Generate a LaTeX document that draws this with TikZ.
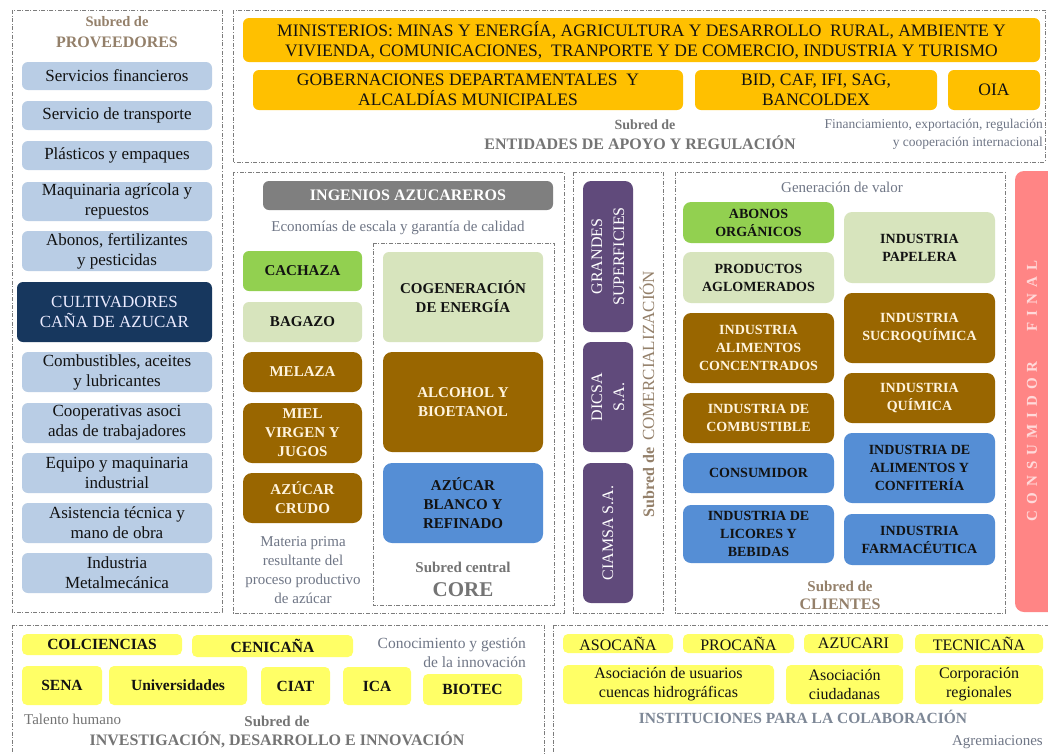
\documentclass[tikz,border=0pt]{standalone}
\usepackage{fontspec}
\setmainfont{Liberation Serif}
\definecolor{provblue}{HTML}{B9CDE5}
\definecolor{navyx}{HTML}{17375E}
\definecolor{goldx}{HTML}{FFC000}
\definecolor{brownx}{HTML}{996600}
\definecolor{lgreenx}{HTML}{D7E4BD}
\definecolor{bgreenx}{HTML}{92D050}
\definecolor{bluex}{HTML}{558ED5}
\definecolor{purplex}{HTML}{604A7B}
\definecolor{grayx}{HTML}{7F7F7F}
\definecolor{pinkx}{HTML}{FF8585}
\definecolor{yellowx}{HTML}{FFFF66}
\definecolor{titletan}{HTML}{94806A}
\definecolor{titlegray}{HTML}{747474}
\definecolor{titleblue}{HTML}{7D8796}
\definecolor{notegray}{HTML}{6F7686}
\definecolor{framegray}{HTML}{7C7C7C}
\definecolor{creamx}{HTML}{FFF4DE}
\definecolor{inkx}{HTML}{121212}
\definecolor{pinktext}{HTML}{FFDADA}
\newcommand\fProv{\fontsize{17}{20}\selectfont}
\newcommand\fMin{\fontsize{17.5}{20}\selectfont}
\newcommand\fIng{\bfseries\fontsize{15}{19}\selectfont}
\newcommand\fCli{\bfseries\fontsize{14}{18}\selectfont}
\newcommand\fInv{\bfseries\fontsize{15.5}{19}\selectfont}
\newcommand\fIns{\fontsize{16}{19}\selectfont}
\newcommand\fNote{\fontsize{15}{19}\selectfont}
\newcommand\fSub{\bfseries\fontsize{14}{17}\selectfont}
\newcommand\fTit{\bfseries\fontsize{16}{19}\selectfont}
\newcommand\lsp{\hspace{6pt}}
\newcommand{\bx}[7]{\node[#2, minimum width={#5-#3}, minimum height={#6-#4}] (#1) at ({(#3+#5)/2},{(#4+#6)/2}) {#7};}
\tikzset{
  frame/.style={draw=framegray, line width=0.8pt, dash pattern=on 4pt off 1.6pt on 1pt off 1.6pt},
  bxs/.style={rounded corners=6pt, inner sep=1pt, align=center, text=inkx},
  provbox/.style={bxs, fill=provblue, font=\fProv},
  navybox/.style={bxs, fill=navyx, text=white!92!blue, font=\fProv},
  minbox/.style={bxs, fill=goldx, font=\fMin},
  ingbox/.style={bxs, fill=grayx, text=white, font=\bfseries\fontsize{16}{19}\selectfont},
  gbox/.style={bxs, fill=bgreenx, font=\fIng},
  lgbox/.style={bxs, fill=lgreenx, font=\fIng},
  brbox/.style={bxs, rounded corners=9pt, fill=brownx, text=creamx, font=\fIng},
  blbox/.style={bxs, rounded corners=9pt, fill=bluex, font=\fIng},
  cgbox/.style={bxs, rounded corners=8pt, fill=bgreenx, font=\fCli},
  clgbox/.style={bxs, rounded corners=8pt, fill=lgreenx, font=\fCli},
  cbrbox/.style={bxs, rounded corners=8pt, fill=brownx, text=creamx, font=\fCli},
  cblbox/.style={bxs, rounded corners=8pt, fill=bluex, font=\fCli},
  pubox/.style={bxs, rounded corners=8pt, fill=purplex, text=white, font=\fontsize{16}{22}\selectfont},
  invbox/.style={bxs, rounded corners=5pt, fill=yellowx, font=\fInv},
  insbox/.style={bxs, rounded corners=5pt, fill=yellowx, font=\fIns},
  note/.style={inner sep=0pt, text=notegray, font=\fNote},
  subt/.style={inner sep=0pt, font=\fSub},
  titl/.style={inner sep=0pt, font=\fTit}
}
\begin{document}
\begin{tikzpicture}[x=1pt,y=-1pt]
\useasboundingbox (0,0) rectangle (1048,753);
\fill[white] (0,0) rectangle (1048,753);
% frames
\draw[frame] (12,10) rectangle (222,612);
\draw[frame] (233,10) rectangle (1045,162);
\draw[frame] (233,172) rectangle (564,613);
\draw[frame] (373,243) rectangle (554,605);
\draw[frame] (573,172) rectangle (663,613);
\draw[frame] (675,172) rectangle (1005,613);
\draw[frame] (12,625) rectangle (544,775);
\draw[frame] (553,625) rectangle (1065,775);
% proveedores
\node[subt, text=titletan, font=\bfseries\fontsize{14.5}{17}\selectfont] (provsub) at (117,22) {Subred de};
\node[titl, text=titletan] (provtit) at (117,42) {PROVEEDORES};
\bx{p1}{provbox}{22}{62}{212}{90}{Servicios financieros}
\bx{p2}{provbox}{22}{101}{212}{130}{Servicio de transporte}
\bx{p3}{provbox}{22}{141}{212}{170}{Plásticos y empaques}
\bx{p4}{provbox}{22}{182}{212}{221}{Maquinaria agrícola y\\repuestos}
\bx{p5}{provbox}{22}{231}{212}{271}{Abonos, fertilizantes\\y pesticidas}
\bx{cult}{navybox}{17}{282}{212}{342}{CULTIVADORES\\CAÑA DE AZUCAR}
\bx{p7}{provbox}{22}{352}{212}{392}{Combustibles, aceites\\y lubricantes}
\bx{p8}{provbox}{22}{403}{212}{443}{Cooperativas asoci\\adas de trabajadores}
\bx{p9}{provbox}{22}{453}{212}{493}{Equipo y maquinaria\\industrial}
\bx{p10}{provbox}{22}{503}{212}{543}{Asistencia técnica y\\mano de obra}
\bx{p11}{provbox}{22}{553}{212}{593}{Industria\\Metalmecánica}
% entidades
\bx{min}{minbox}{243}{18}{1040}{62}{MINISTERIOS: MINAS Y ENERGÍA, AGRICULTURA Y DESARROLLO \ RURAL, AMBIENTE Y\\VIVIENDA, COMUNICACIONES, \ TRANPORTE Y DE COMERCIO, INDUSTRIA Y TURISMO}
\bx{gob}{minbox}{253}{70}{683}{110}{GOBERNACIONES DEPARTAMENTALES \ Y\\ALCALDÍAS MUNICIPALES}
\bx{bid}{minbox}{695}{70}{937}{110}{BID, CAF, IFI, SAG,\\BANCOLDEX}
\bx{oia}{minbox}{948}{70}{1040}{110}{OIA}
\node[subt, text=titlegray] (entsub) at (645,125) {Subred de};
\node[titl, text=titlegray] (enttit) at (640,143) {ENTIDADES DE APOYO Y REGULACIÓN};
\node[note, align=right, anchor=east, font=\fontsize{13.5}{18}\selectfont] (finnote) at (1043,134) {Financiamiento, exportación, regulación\\y cooperación internacional};
% ingenios
\bx{ing}{ingbox}{263}{181}{553}{210}{INGENIOS AZUCAREROS}
\node[note] (econote) at (398,228) {Economías de escala y garantía de calidad};
\bx{cach}{gbox}{243}{251}{362}{291}{CACHAZA}
\bx{baga}{lgbox}{243}{302}{362}{342}{BAGAZO}
\bx{mela}{brbox}{243}{352}{362}{392}{MELAZA}
\bx{miel}{brbox}{243}{403}{362}{463}{MIEL\\VIRGEN Y\\JUGOS}
\bx{acru}{brbox}{243}{473}{362}{523}{AZÚCAR\\CRUDO}
\node[note, align=center] (matnote) at (303,570) {Materia prima\\resultante del\\proceso productivo\\de azúcar};
\bx{coge}{lgbox}{383}{252}{543}{342}{COGENERACIÓN\\DE ENERGÍA}
\bx{alco}{brbox}{383}{352}{543}{452}{ALCOHOL Y\\BIOETANOL}
\bx{abla}{blbox}{383}{463}{543}{543}{AZÚCAR\\BLANCO Y\\REFINADO}
\node[subt, text=titlegray, font=\bfseries\fontsize{15}{18}\selectfont] (coresub) at (463,567) {Subred central};
\node[titl, text=titlegray, font=\bfseries\fontsize{21}{24}\selectfont] (coretit) at (463,590) {CORE};
% comercializacion
\bx{gran}{pubox}{583}{181}{633}{332}{}
\node[rotate=90, align=center, text=white, font=\fontsize{16}{22}\selectfont] (grant) at (gran.center) {GRANDES\\SUPERFICIES};
\bx{dics}{pubox}{583}{342}{633}{452}{}
\node[rotate=90, align=center, text=white, font=\fontsize{16}{22}\selectfont] (dicst) at (dics.center) {DICSA\\S.A.};
\bx{ciam}{pubox}{583}{463}{633}{603}{}
\node[rotate=90, align=center, text=white, font=\fontsize{16}{22}\selectfont] (ciamt) at (ciam.center) {CIAMSA S.A.};
\node[rotate=90, inner sep=0pt, text=titletan] (comt) at (647,394) {{\bfseries\fontsize{16}{19}\selectfont Subred de}\hspace{7pt}{\fontsize{17}{20}\selectfont COMERCIALIZACIÓN}};
% clientes
\node[note] (gennote) at (842,187) {Generación de valor};
\bx{abon}{cgbox}{683}{202}{834}{243}{ABONOS\\ORGÁNICOS}
\bx{prod}{clgbox}{683}{252}{834}{303}{PRODUCTOS\\AGLOMERADOS}
\bx{ialc}{cbrbox}{683}{313}{834}{383}{INDUSTRIA\\ALIMENTOS\\CONCENTRADOS}
\bx{icom}{cbrbox}{683}{393}{834}{443}{INDUSTRIA DE\\COMBUSTIBLE}
\bx{cons}{cblbox}{683}{453}{834}{493}{CONSUMIDOR}
\bx{ilic}{cblbox}{683}{505}{834}{563}{INDUSTRIA DE\\LICORES Y\\BEBIDAS}
\bx{ipap}{clgbox}{844}{212}{995}{283}{INDUSTRIA\\PAPELERA}
\bx{isuc}{cbrbox}{844}{293}{995}{363}{INDUSTRIA\\SUCROQUÍMICA}
\bx{iqui}{cbrbox}{844}{373}{995}{423}{INDUSTRIA\\QUÍMICA}
\bx{ialm}{cblbox}{844}{433}{995}{503}{INDUSTRIA DE\\ALIMENTOS Y\\CONFITERÍA}
\bx{ifar}{cblbox}{844}{514}{995}{565}{INDUSTRIA\\FARMACÉUTICA}
\node[subt, text=titletan, font=\bfseries\fontsize{15}{18}\selectfont] (clisub) at (840,586) {Subred de};
\node[titl, text=titletan] (clitit) at (840,604) {CLIENTES};
% consumidor final
\bx{cfin}{bxs, rounded corners=9pt, fill=pinkx}{1015}{171}{1075}{612}{}
\node[rotate=90, inner sep=0pt, text=pinktext, font=\bfseries\fontsize{15}{18}\selectfont] (cfint) at (1032,391) {C\lsp O\lsp N\lsp S\lsp U\lsp M\lsp I\lsp D\lsp O\lsp R\hspace{30pt}F\lsp I\lsp N\lsp A\lsp L};
% investigacion
\bx{colc}{invbox}{22}{634}{182}{655}{COLCIENCIAS}
\bx{ceni}{invbox}{192}{635}{353}{657}{CENICAÑA}
\bx{sena}{invbox}{22}{666}{102}{705}{SENA}
\bx{univ}{invbox}{109}{666}{247}{705}{Universidades}
\bx{ciat}{invbox}{261}{667}{330}{705}{CIAT}
\bx{ica}{invbox}{343}{667}{411}{705}{ICA}
\bx{biot}{invbox}{423}{674}{522}{705}{BIOTEC}
\node[note, align=right, anchor=east, font=\fontsize{15.5}{19}\selectfont] (connote) at (526,653) {Conocimiento y gestión\\de la innovación};
\node[note, anchor=west, text=titlegray] (talnote) at (24,719) {Talento humano};
\node[subt, text=titlegray, font=\bfseries\fontsize{15}{18}\selectfont] (invsub) at (277,721) {Subred de};
\node[titl, text=titlegray] (invtit) at (277,740) {INVESTIGACIÓN, DESARROLLO E INNOVACIÓN};
% instituciones
\bx{aso}{insbox}{563}{634}{673}{653}{ASOCAÑA}
\bx{pro}{insbox}{683}{634}{794}{653}{PROCAÑA}
\bx{azu}{insbox}{804}{634}{903}{653}{AZUCARI}
\bx{tec}{insbox}{915}{634}{1043}{653}{TECNICAÑA}
\bx{auc}{insbox}{563}{665}{774}{704}{Asociación de usuarios\\cuencas hidrográficas}
\bx{aci}{insbox}{786}{665}{903}{704}{Asociación\\ciudadanas}
\bx{cre}{insbox}{915}{665}{1043}{704}{Corporación\\regionales}
\node[titl, text=titleblue, font=\bfseries\fontsize{15.5}{18}\selectfont] (instit) at (803,717) {INSTITUCIONES PARA LA COLABORACIÓN};
\node[note, anchor=east] (agrnote) at (1043,742) {Agremiaciones};
\end{tikzpicture}
\end{document}
